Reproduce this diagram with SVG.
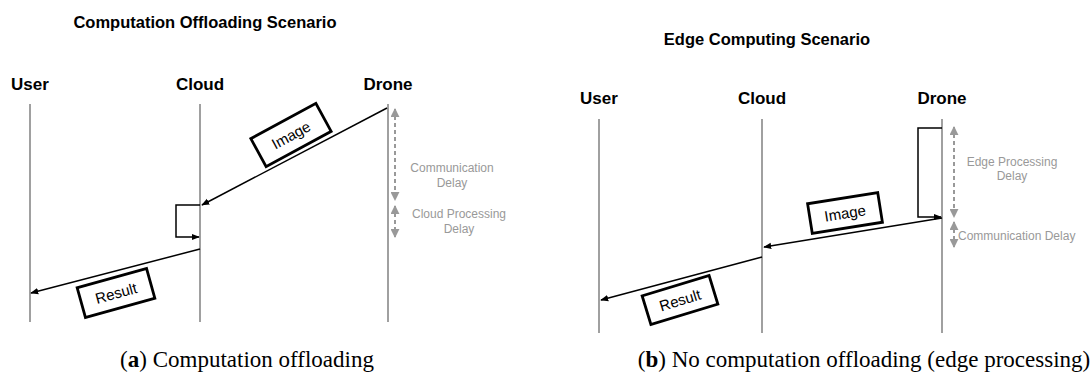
<svg xmlns="http://www.w3.org/2000/svg" width="1092" height="383" viewBox="0 0 1092 383">
  <defs>
    <marker id="arrow" viewBox="0 0 10 10" refX="9" refY="5" markerWidth="8" markerHeight="8" markerUnits="userSpaceOnUse" orient="auto">
      <path d="M0,1 L10,5 L0,9 Z" fill="#000"/>
    </marker>
    <marker id="garrow" viewBox="0 0 10 10" refX="9" refY="5" markerWidth="9" markerHeight="9" markerUnits="userSpaceOnUse" orient="auto-start-reverse">
      <path d="M0,0 L10,5 L0,10 Z" fill="#999"/>
    </marker>
  </defs>
  <style>
    .title { font-family: "Liberation Sans", Arial, sans-serif; font-weight: bold; font-size: 16.5px; fill: #000; text-anchor: middle; }
    .actor { font-family: "Liberation Sans", Arial, sans-serif; font-weight: bold; font-size: 17px; fill: #000; text-anchor: middle; }
    .life { stroke: #a0a0a0; stroke-width: 2; fill: none; }
    .msg { stroke: #000; stroke-width: 1.5; fill: none; marker-end: url(#arrow); }
    .delay { stroke: #999; stroke-width: 2; stroke-dasharray: 4 3; fill: none; marker-start: url(#garrow); marker-end: url(#garrow); }
    .dtext { font-family: "Liberation Sans", Arial, sans-serif; font-size: 12px; fill: #999; text-anchor: middle; }
    .box { fill: #fff; stroke: #000; stroke-width: 2.8; }
    .btext { font-family: "Liberation Sans", Arial, sans-serif; font-size: 15px; fill: #000; text-anchor: middle; }
    .caption { font-family: "Liberation Serif", "Times New Roman", serif; font-size: 23px; fill: #000; text-anchor: middle; }
  </style>

  <!-- (a) computation offloading -->
  <g id="panel-a">
    <text class="title" x="205" y="28">Computation Offloading Scenario</text>
    <g id="a-user"><text class="actor" x="30" y="90">User</text><line class="life" x1="30" y1="104" x2="30" y2="322"/></g>
    <g id="a-cloud"><text class="actor" x="200" y="90">Cloud</text><line class="life" x1="200" y1="104" x2="200" y2="322"/></g>
    <g id="a-drone"><text class="actor" x="388" y="90">Drone</text><line class="life" x1="388" y1="104" x2="388" y2="322"/></g>

    <g id="a-connectors">
      <line class="msg" x1="387" y1="108" x2="202" y2="205"/>
      <path class="msg" d="M200,205 H176 V237 H199"/>
      <line class="msg" x1="200" y1="249" x2="31" y2="293"/>
      <line class="delay" x1="395" y1="109" x2="395" y2="200"/>
      <line class="delay" x1="395" y1="206" x2="395" y2="237"/>
    </g>

    <g id="a-image" transform="translate(291,135) rotate(-28.5)">
      <rect class="box" x="-37" y="-16" width="74" height="32"/>
      <text class="btext" x="0" y="5.5">Image</text>
    </g>
    <g id="a-result" transform="translate(116,293) rotate(-15.5)">
      <rect class="box" x="-36" y="-15.5" width="72" height="31"/>
      <text class="btext" x="0" y="5.5">Result</text>
    </g>

    <g id="a-delays">
      <text class="dtext" x="452" y="172">Communication</text>
      <text class="dtext" x="452" y="187">Delay</text>
      <text class="dtext" x="459" y="218">Cloud Processing</text>
      <text class="dtext" x="459" y="233">Delay</text>
    </g>

    <text class="caption" x="247" y="367">(<tspan font-weight="bold">a</tspan>) Computation offloading</text>
  </g>

  <!-- (b) edge processing -->
  <g id="panel-b">
    <text class="title" x="767" y="45">Edge Computing Scenario</text>
    <g id="b-user"><text class="actor" x="599" y="104">User</text><line class="life" x1="599" y1="119" x2="599" y2="333"/></g>
    <g id="b-cloud"><text class="actor" x="762" y="104">Cloud</text><line class="life" x1="762" y1="119" x2="762" y2="333"/></g>
    <g id="b-drone"><text class="actor" x="942" y="104">Drone</text><line class="life" x1="942" y1="119" x2="942" y2="333"/></g>

    <g id="b-connectors">
      <path class="msg" d="M942,128 H918 V217 H941"/>
      <line class="msg" x1="942" y1="218" x2="764" y2="247"/>
      <line class="msg" x1="762" y1="257" x2="601" y2="300"/>
      <line class="delay" x1="954" y1="127" x2="954" y2="217"/>
      <line class="delay" x1="954" y1="222" x2="954" y2="247"/>
    </g>

    <g id="b-image" transform="translate(845,213) rotate(-9)">
      <rect class="box" x="-35.5" y="-15" width="71" height="30"/>
      <text class="btext" x="0" y="5.5">Image</text>
    </g>
    <g id="b-result" transform="translate(680,300) rotate(-17)">
      <rect class="box" x="-35" y="-15" width="70" height="30"/>
      <text class="btext" x="0" y="5.5">Result</text>
    </g>

    <g id="b-delays">
      <text class="dtext" x="1012" y="166">Edge Processing</text>
      <text class="dtext" x="1012" y="180">Delay</text>
      <text class="dtext" x="958" y="240" style="text-anchor:start">Communication Delay</text>
    </g>

    <text class="caption" x="864" y="367">(<tspan font-weight="bold">b</tspan>) No computation offloading (edge processing)</text>
  </g>
</svg>
